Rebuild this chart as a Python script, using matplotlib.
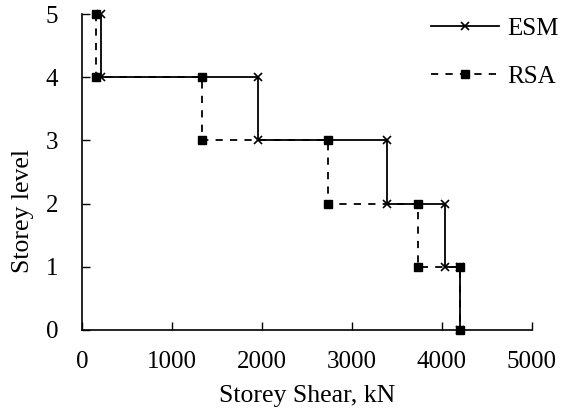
import matplotlib.pyplot as plt

plt.rcParams['font.family'] = ['Liberation Serif', 'DejaVu Serif']

# storey shear per level (top storey first)
levels = [5, 4, 3, 2, 1]
esm_shear = [215, 1960, 3390, 4030, 4200]
rsa_shear = [155, 1340, 2740, 3730, 4200]


def stepped(shear, levels):
    xs, ys = [], []
    for v, lv in zip(shear, levels):
        xs += [v, v]
        ys += [lv, lv - 1]
    return xs, ys


fig = plt.figure(figsize=(5.61, 4.15), dpi=100)
ax = fig.add_axes([0.146, 0.205, 0.802, 0.761])

x, y = stepped(esm_shear, levels)
ax.plot(x, y, '-', color='black', lw=1.3, marker='x', ms=6, mew=1.2, label='ESM', clip_on=False)
x, y = stepped(rsa_shear, levels)
ax.plot(x, y, '--', color='black', lw=1.3, marker='s', ms=5.5, label='RSA',
        dashes=(4, 4), clip_on=False)

ax.set_xlim(0, 5000)
ax.set_ylim(0, 5)
ax.set_xticks([0, 1000, 2000, 3000, 4000, 5000])
ax.set_yticks([0, 1, 2, 3, 4, 5])
ax.tick_params(direction='in', length=6, width=1, labelsize=18, color='black')
ax.tick_params(axis='x', pad=15)
ax.tick_params(axis='y', pad=17)
ax.spines['top'].set_visible(False)
ax.spines['right'].set_visible(False)
for s in ('left', 'bottom'):
    ax.spines[s].set_linewidth(1.2)

ax.set_xlabel('Storey Shear, kN', fontsize=18.5)
ax.set_ylabel('Storey level', fontsize=18.5)
ax.xaxis.set_label_coords(0.5, -0.175)
ax.yaxis.set_label_coords(-0.107, 0.377)

ax.legend(loc='upper right', bbox_to_anchor=(1.11, 1.06), frameon=False, fontsize=18,
          labelspacing=1.0, handlelength=2.7, handletextpad=0.35)

fig.savefig('out.png')
